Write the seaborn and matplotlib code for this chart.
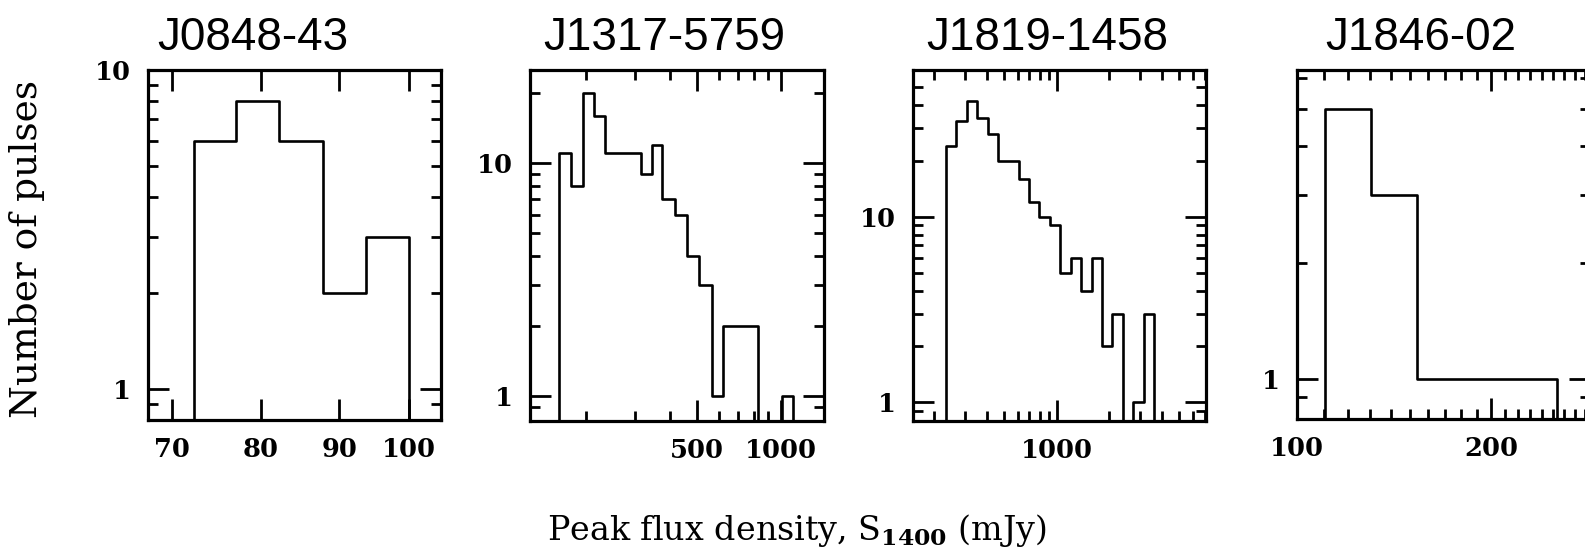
import numpy as np
import pandas as pd
import matplotlib
matplotlib.use("Agg")
import matplotlib.pyplot as plt
import seaborn as sns
from matplotlib.ticker import FixedLocator, FixedFormatter, NullFormatter

# ---------------- data ----------------
pulsars = ["J0848-43", "J1317-5759", "J1819-1458", "J1846-02"]

j0848_edges = [72.3, 77.1, 82.2, 87.9, 93.7, 100.0]
j0848_counts = [6, 8, 6, 2, 3]

j1317_edges = [160, 177, 195, 213, 235, 258, 286, 316, 345, 376, 419,
               460, 510, 566, 619, 684, 755, 832, 915, 1008, 1110]
j1317_counts = [11, 8, 20, 16, 11, 11, 11, 9, 12, 7, 6, 4, 3, 1, 2, 2, 2, 0, 0, 1]

j1819_edges = [234, 268, 308, 353, 404, 463, 531, 608, 697, 799, 916,
               1050, 1204, 1380, 1582, 1813, 2078, 2382, 2730, 3129, 3587]
j1819_counts = [24, 33, 42, 34, 28, 20, 20, 16, 12, 10, 9, 5, 6, 4, 6, 2, 3, 0, 1, 3]

j1846_edges = [110.4, 130.4, 153.8, 181.6, 214.5, 253.0]
j1846_counts = [5, 3, 1, 1, 1]

# tick values / labels
x_major = [[70, 80, 90, 100], [500, 1000], [1000], [100, 200]]
x_major_labels = [["70", "80", "90", "100"], ["500", "1000"], ["1000"], ["100", "200"]]
x_minor = [[],
           [200, 300, 400, 600, 700, 800, 900],
           [200, 300, 400, 500, 600, 700, 800, 900, 2000, 3000, 4000, 5000, 6000, 7000],
           [110, 120, 130, 140, 150, 160, 170, 180, 190, 210, 220, 230, 240, 250, 260, 270, 280]]
y_major = [[1, 10], [1, 10], [1, 10], [1]]
y_major_labels = [["1", "10"], ["1", "10"], ["1", "10"], ["1"]]
y_minor = [[0.9, 2, 3, 4, 5, 6, 7, 8, 9],
           [0.9, 2, 3, 4, 5, 6, 7, 8, 9, 20],
           [0.9, 2, 3, 4, 5, 6, 7, 8, 9, 20, 30, 40, 50],
           [0.9, 2, 3, 4, 5, 6]]

xlims = [(67.5, 104.9), (126, 1430), (152, 7100), (100, 285)]
ylims = [(0.80, 10.0), (0.78, 25.1), (0.79, 62.0), (0.79, 6.3)]

# ---------------- style ----------------
sns.set_style("ticks")
plt.rcParams["font.family"] = ["DejaVu Serif"]
plt.rcParams["font.weight"] = "bold"
plt.rcParams["mathtext.fontset"] = "dejavuserif"
for key in ["text.color", "axes.labelcolor", "xtick.color", "ytick.color",
            "axes.edgecolor"]:
    plt.rcParams[key] = "black"

W, H = 1585, 551
fig = plt.figure(figsize=(W / 100, H / 100), dpi=100)
fig.patch.set_facecolor("white")

# axes boxes in pixels: left, right, top, bottom
boxes = [(148, 441, 70, 420), (530, 824, 70, 421), (913, 1206, 70, 421), (1297, 1590, 70, 419)]
title_x = [253, 664, 1047, 1421]

all_edges = [j0848_edges, j1317_edges, j1819_edges, j1846_edges]
all_counts = [j0848_counts, j1317_counts, j1819_counts, j1846_counts]

for i in range(4):
    l, r, t, b = boxes[i]
    ax = fig.add_axes([l / W, 1 - b / H, (r - l) / W, (b - t) / H])
    edges = np.asarray(all_edges[i], float)
    counts = np.asarray(all_counts[i], float)
    centers = np.sqrt(edges[:-1] * edges[1:])
    bins = [edges[0] * 0.7] + list(edges) + [edges[-1] * 1.5]
    df = pd.DataFrame({"flux": centers, "n": counts})
    sns.histplot(data=df, x="flux", weights="n", bins=bins, element="step",
                 fill=False, color="black", linewidth=1.9, ax=ax)
    ax.set_xscale("log")
    ax.set_yscale("log")
    ax.set_xlim(*xlims[i])
    ax.set_ylim(*ylims[i])
    ax.set_xlabel("")
    ax.set_ylabel("")

    ax.xaxis.set_major_locator(FixedLocator(x_major[i]))
    ax.xaxis.set_major_formatter(FixedFormatter(x_major_labels[i]))
    ax.xaxis.set_minor_locator(FixedLocator(x_minor[i]))
    ax.xaxis.set_minor_formatter(NullFormatter())
    ax.yaxis.set_major_locator(FixedLocator(y_major[i]))
    ax.yaxis.set_major_formatter(FixedFormatter(y_major_labels[i]))
    ax.yaxis.set_minor_locator(FixedLocator(y_minor[i]))
    ax.yaxis.set_minor_formatter(NullFormatter())

    ax.tick_params(which="both", direction="in", top=True, right=True,
                   color="black", labelcolor="black", width=2.0)
    ax.tick_params(which="major", length=15)
    ax.tick_params(which="minor", length=7)
    ax.tick_params(axis="x", which="major", pad=12, labelsize=18.5)
    ax.tick_params(axis="y", which="major", pad=12, labelsize=18.5)
    for s in ax.spines.values():
        s.set_linewidth(2.3)
        s.set_color("black")
        s.set_visible(True)

    fig.text(title_x[i] / W, 1 - 50 / H, pulsars[i], ha="center", va="baseline",
             fontsize=33, family="Liberation Sans", fontweight="normal", color="black")

fig.text(27 / W, 1 - 249 / H, "Number of pulses", rotation=90, ha="center",
         va="center", fontsize=27, fontweight="normal", color="black")
fig.text(797 / W, 1 - 540 / H, r"Peak flux density, S$_{\mathrm{1400}}$ (mJy)",
         ha="center", va="baseline", fontsize=24, fontweight="normal", color="black")

fig.savefig("out.png", dpi=100, facecolor="white")
